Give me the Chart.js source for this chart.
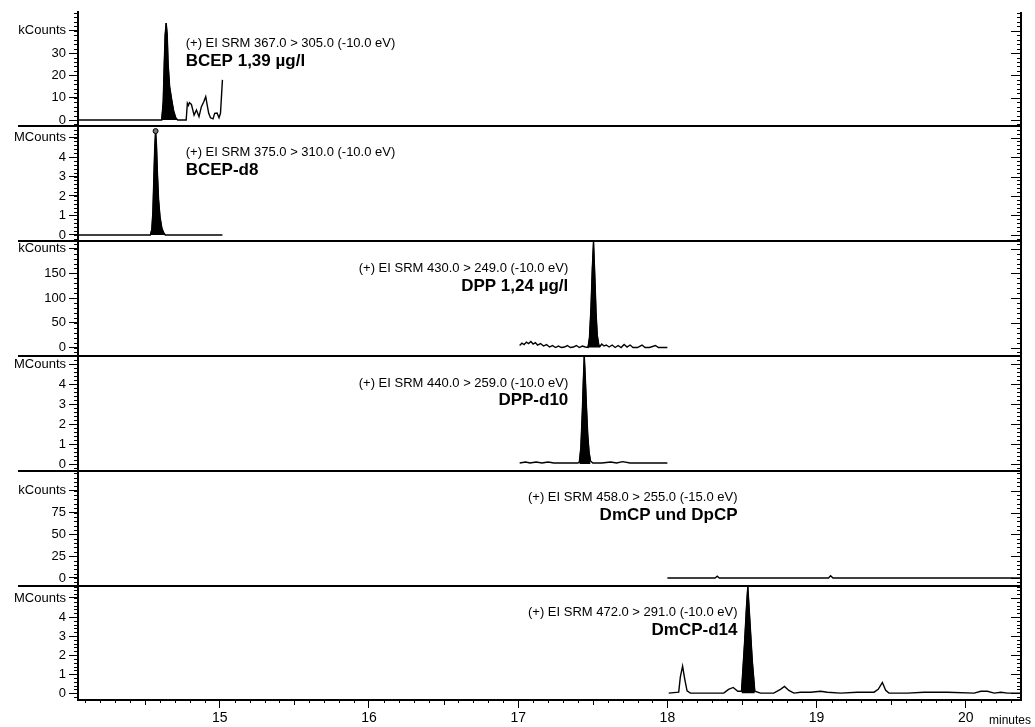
<!DOCTYPE html>
<html>
<head>
<meta charset="utf-8">
<script src="https://cdn.jsdelivr.net/npm/chart.js@4.4.0/dist/chart.umd.min.js"></script>
<style>
html,body{margin:0;padding:0;background:#fff;}
#wrap{width:1035px;height:727px;}
</style>
</head>
<body>
<div id="wrap"><canvas id="chromChart" width="1035" height="727"></canvas></div>
<script>
// retention time (minutes) and intensity per SRM trace
const bcepTime = [14.05, 14.611, 14.621, 14.628, 14.634, 14.641, 14.648, 14.654, 14.664, 14.678, 14.691, 14.705, 14.718, 14.775, 14.783, 14.79, 14.797, 14.81, 14.828, 14.844, 14.861, 14.877, 14.893, 14.906, 14.915, 14.926, 14.938, 14.955, 14.966, 14.982, 14.995, 15.005, 15.018];
const bcepCounts = [0, 0, 8, 25, 38, 43.5, 38, 25, 15, 9, 4, 1, 0, 0, 7.5, 6.5, 7.8, 7, 2.2, 4.5, 1.5, 6, 8.2, 10.5, 7, 3, 1, 0.5, 3, 3.1, 1, 3, 18];

const bcepD8Time = [14.05, 14.535, 14.545, 14.552, 14.558, 14.564, 14.57, 14.576, 14.582, 14.59, 14.6, 14.612, 14.625, 14.635, 15.018];
const bcepD8Counts = [0, 0, 0.3, 1.2, 2.8, 4.4, 5.33, 4.6, 3.2, 1.8, 0.9, 0.35, 0.1, 0, 0];

const dppTime = [17.01, 17.025, 17.04, 17.055, 17.07, 17.085, 17.1, 17.115, 17.13, 17.15, 17.17, 17.19, 17.21, 17.23, 17.25, 17.27, 17.29, 17.31, 17.33, 17.35, 17.37, 17.39, 17.41, 17.43, 17.45,
  17.468, 17.478, 17.488, 17.497, 17.505, 17.513, 17.522, 17.53, 17.54, 17.548,
  17.56, 17.575, 17.59, 17.61, 17.63, 17.65, 17.67, 17.69, 17.71, 17.73, 17.75, 17.77, 17.8, 17.83, 17.85, 17.88, 17.92, 17.94, 17.96, 18.0];
const dppCounts = [4, 9, 6, 11, 8, 12, 7, 10, 5, 8, 3, 6, 1, 4, 0, 3, 0, 1, 4, 0, 1, 4, 0, 3, 1,
  0, 20, 80, 160, 214, 150, 70, 25, 6, 2,
  7, 3, 5, 1, 5, 0, 4, 0, 6, 1, 5, 0, 0, 5, 0, 0, 4, 0, 0, 0];

const dppD10Time = [17.01, 17.05, 17.08, 17.12, 17.16, 17.2, 17.24, 17.3, 17.36, 17.4, 17.41, 17.42, 17.43, 17.437, 17.443, 17.45, 17.458, 17.466, 17.475, 17.485, 17.5, 17.56, 17.62, 17.66, 17.7, 17.75, 17.85, 18.0];
const dppD10Counts = [0.05, 0.1, 0.05, 0.1, 0.05, 0.1, 0.05, 0.05, 0.05, 0.05, 0.1, 0.8, 2.6, 4.2, 5.4, 4.3, 2.8, 1.5, 0.6, 0.15, 0.05, 0.05, 0.1, 0.05, 0.12, 0.05, 0.05, 0.05];

const dmcpTime = [18.0, 18.32, 18.334, 18.348, 19.08, 19.094, 19.11, 20.37];
const dmcpCounts = [0, 0, 2, 0, 0, 2.5, 0, 0];

const dmcpD14Time = [18.009, 18.076, 18.087, 18.102, 18.116, 18.132, 18.154, 18.199, 18.266, 18.378, 18.41, 18.441, 18.472, 18.497, 18.517, 18.53, 18.539, 18.553, 18.569, 18.586, 18.624, 18.713, 18.758, 18.785, 18.814, 18.848, 18.893, 18.96, 19.027, 19.072, 19.161, 19.273, 19.385, 19.413, 19.441, 19.463, 19.485, 19.609, 19.721, 19.877, 20.056, 20.101, 20.145, 20.19, 20.235, 20.28, 20.37];
const dmcpD14Counts = [0, 0.05, 0.86, 1.42, 0.75, 0.12, 0, 0, 0, 0, 0.2, 0.3, 0.1, 0.1, 2.6, 4.5, 5.6, 3.8, 1.7, 0.1, 0, 0, 0.2, 0.35, 0.14, 0, 0.05, 0.05, 0.1, 0.05, 0, 0.05, 0.05, 0.2, 0.56, 0.15, 0, 0, 0.05, 0.05, 0, 0.1, 0.1, 0, 0.05, 0, 0];

// integrated peak windows (filled black)
const peakWindows = [[14.611, 14.718], [14.535, 14.635], [17.468, 17.548], [17.41, 17.485], null, [18.497, 18.586]];

// panel axes, top to bottom
const unitNames = ['kCounts', 'MCounts', 'kCounts', 'MCounts', 'kCounts', 'MCounts'];
const unitTicks = [40, 5, 200, 5, 100, 5];
const majorSteps = [10, 1, 50, 1, 25, 1];
const minorSteps = [2, 0.2, 10, 0.2, 5, 0.2];
const panelMin = [-2.69, -0.308, -17.2, -0.35, -9.2, -0.36];
const panelMax = [48.43, 5.59, 215.6, 5.4, 122.6, 5.63];
const panelWeights = [114, 115, 115, 115, 115, 114];

// trace captions
const srmLines = ['(+) EI SRM 367.0 > 305.0 (-10.0 eV)', '(+) EI SRM 375.0 > 310.0 (-10.0 eV)', '(+) EI SRM 430.0 > 249.0 (-10.0 eV)', '(+) EI SRM 440.0 > 259.0 (-10.0 eV)', '(+) EI SRM 458.0 > 255.0 (-15.0 eV)', '(+) EI SRM 472.0 > 291.0 (-10.0 eV)'];
const compoundNames = ['BCEP 1,39 µg/l', 'BCEP-d8', 'DPP 1,24 µg/l', 'DPP-d10', 'DmCP und DpCP', 'DmCP-d14'];
const captionTime = [14.772, 14.772, 17.336, 17.336, 18.47, 18.47];
const captionAlign = ['left', 'left', 'right', 'right', 'right', 'right'];
const captionOffset = [[31, 49], [26, 44], [27, 45], [27, 44], [26, 44], [26, 44]];

const traceTimes = [bcepTime, bcepD8Time, dppTime, dppD10Time, dmcpTime, dmcpD14Time];
const traceCounts = [bcepCounts, bcepD8Counts, dppCounts, dppD10Counts, dmcpCounts, dmcpD14Counts];

const FONT = "'Liberation Sans', Arial, sans-serif";
Chart.defaults.font.family = FONT;
Chart.defaults.color = '#000';

const panelIds = ['p1', 'p2', 'p3', 'p4', 'p5', 'p6'];

function toPoints(ts, vs) {
  return ts.map((t, k) => ({x: t, y: vs[k]}));
}

const datasets = [];
panelIds.forEach((id, i) => {
  const pts = toPoints(traceTimes[i], traceCounts[i]);
  let apex = -1;
  if (i === 1) apex = traceCounts[i].indexOf(Math.max(...traceCounts[i]));
  datasets.push({
    label: compoundNames[i],
    data: pts,
    yAxisID: id,
    borderColor: '#000',
    borderWidth: 1.4,
    tension: 0,
    fill: false,
    pointRadius: ctx => ctx.dataIndex === apex ? 2.5 : 0,
    pointBackgroundColor: '#777',
    pointBorderColor: '#000',
    pointBorderWidth: 1
  });
  const win = peakWindows[i];
  if (win) {
    datasets.push({
      label: compoundNames[i] + ' peak',
      data: pts.filter(p => p.x >= win[0] && p.x <= win[1]),
      yAxisID: id,
      borderColor: '#000',
      borderWidth: 1,
      backgroundColor: '#000',
      tension: 0,
      fill: 'origin',
      pointRadius: 0
    });
  }
});

function panelScale(i) {
  return {
    type: 'linear',
    position: 'left',
    stack: 'traces',
    stackWeight: panelWeights[i],
    min: panelMin[i],
    max: panelMax[i],
    afterFit: s => { s.width = 78; },
    border: {display: true, color: '#000', width: 2},
    grid: {drawOnChartArea: false, drawTicks: true, tickLength: 9, color: '#000', tickWidth: 1},
    ticks: {
      stepSize: majorSteps[i],
      includeBounds: false,
      autoSkip: false,
      color: '#000',
      padding: 3,
      font: {size: 13},
      callback: v => v === unitTicks[i] ? unitNames[i] : v
    }
  };
}

const scales = {
  x: {
    type: 'linear',
    min: 14.05,
    max: 20.37,
    afterFit: s => { s.height = 27; },
    border: {color: '#000', width: 2},
    grid: {drawOnChartArea: false, tickLength: 8, color: '#000'},
    ticks: {stepSize: 1, includeBounds: false, color: '#000', font: {size: 14}, padding: 2, maxRotation: 0}
  }
};
// stacked left axes are laid out bottom-up, so register the lowest panel first
for (let i = panelIds.length - 1; i >= 0; i--) {
  scales[panelIds[i]] = panelScale(i);
}

// separators, minor ticks, mirrored right axis, captions
const chromDecor = {
  id: 'chromDecor',
  afterDraw(chart) {
    const ctx = chart.ctx;
    const area = chart.chartArea;
    const xs = chart.scales.x;
    ctx.save();
    ctx.strokeStyle = '#000';
    ctx.fillStyle = '#000';

    panelIds.forEach((id, i) => {
      const s = chart.scales[id];
      const step = minorSteps[i];
      ctx.lineWidth = 1;
      ctx.beginPath();
      for (let k = Math.ceil(s.min / step); k * step <= s.max; k++) {
        const y = Math.round(s.getPixelForValue(k * step)) + 0.5;
        ctx.moveTo(area.left - 4, y); ctx.lineTo(area.left, y);
        ctx.moveTo(area.right - 4, y); ctx.lineTo(area.right, y);
      }
      s.ticks.forEach(t => {
        const y = Math.round(s.getPixelForValue(t.value)) + 0.5;
        ctx.moveTo(area.right - 10, y); ctx.lineTo(area.right, y);
      });
      ctx.stroke();

      if (i < panelIds.length - 1) {
        ctx.lineWidth = 2;
        ctx.beginPath();
        ctx.moveTo(18, s.bottom); ctx.lineTo(area.right, s.bottom);
        ctx.stroke();
      }

      const cx = xs.getPixelForValue(captionTime[i]);
      ctx.textAlign = captionAlign[i];
      ctx.textBaseline = 'middle';
      ctx.font = '13px ' + FONT;
      ctx.fillText(srmLines[i], cx, s.top + captionOffset[i][0]);
      ctx.font = 'bold 17px ' + FONT;
      ctx.fillText(compoundNames[i], cx, s.top + captionOffset[i][1]);
    });

    // right axis line
    ctx.lineWidth = 2;
    ctx.beginPath();
    ctx.moveTo(area.right, area.top); ctx.lineTo(area.right, area.bottom);
    ctx.stroke();

    // minor time ticks
    ctx.lineWidth = 1;
    ctx.beginPath();
    for (let k = Math.ceil(xs.min * 10); k <= Math.floor(xs.max * 10); k++) {
      if (k % 10 === 0) continue;
      const x = Math.round(xs.getPixelForValue(k / 10)) + 0.5;
      ctx.moveTo(x, area.bottom); ctx.lineTo(x, area.bottom + (k % 5 === 0 ? 5 : 3));
    }
    ctx.stroke();

    ctx.font = '12px ' + FONT;
    ctx.textAlign = 'right';
    ctx.textBaseline = 'middle';
    ctx.fillText('minutes', chart.width - 4, area.bottom + 21);
    ctx.restore();
  }
};

new Chart(document.getElementById('chromChart'), {
  type: 'line',
  data: {datasets: datasets},
  options: {
    responsive: false,
    animation: false,
    layout: {padding: {left: 0, top: 12, right: 14, bottom: 0}},
    plugins: {legend: {display: false}, tooltip: {enabled: false}},
    scales: scales
  },
  plugins: [chromDecor]
});
</script>
</body>
</html>
